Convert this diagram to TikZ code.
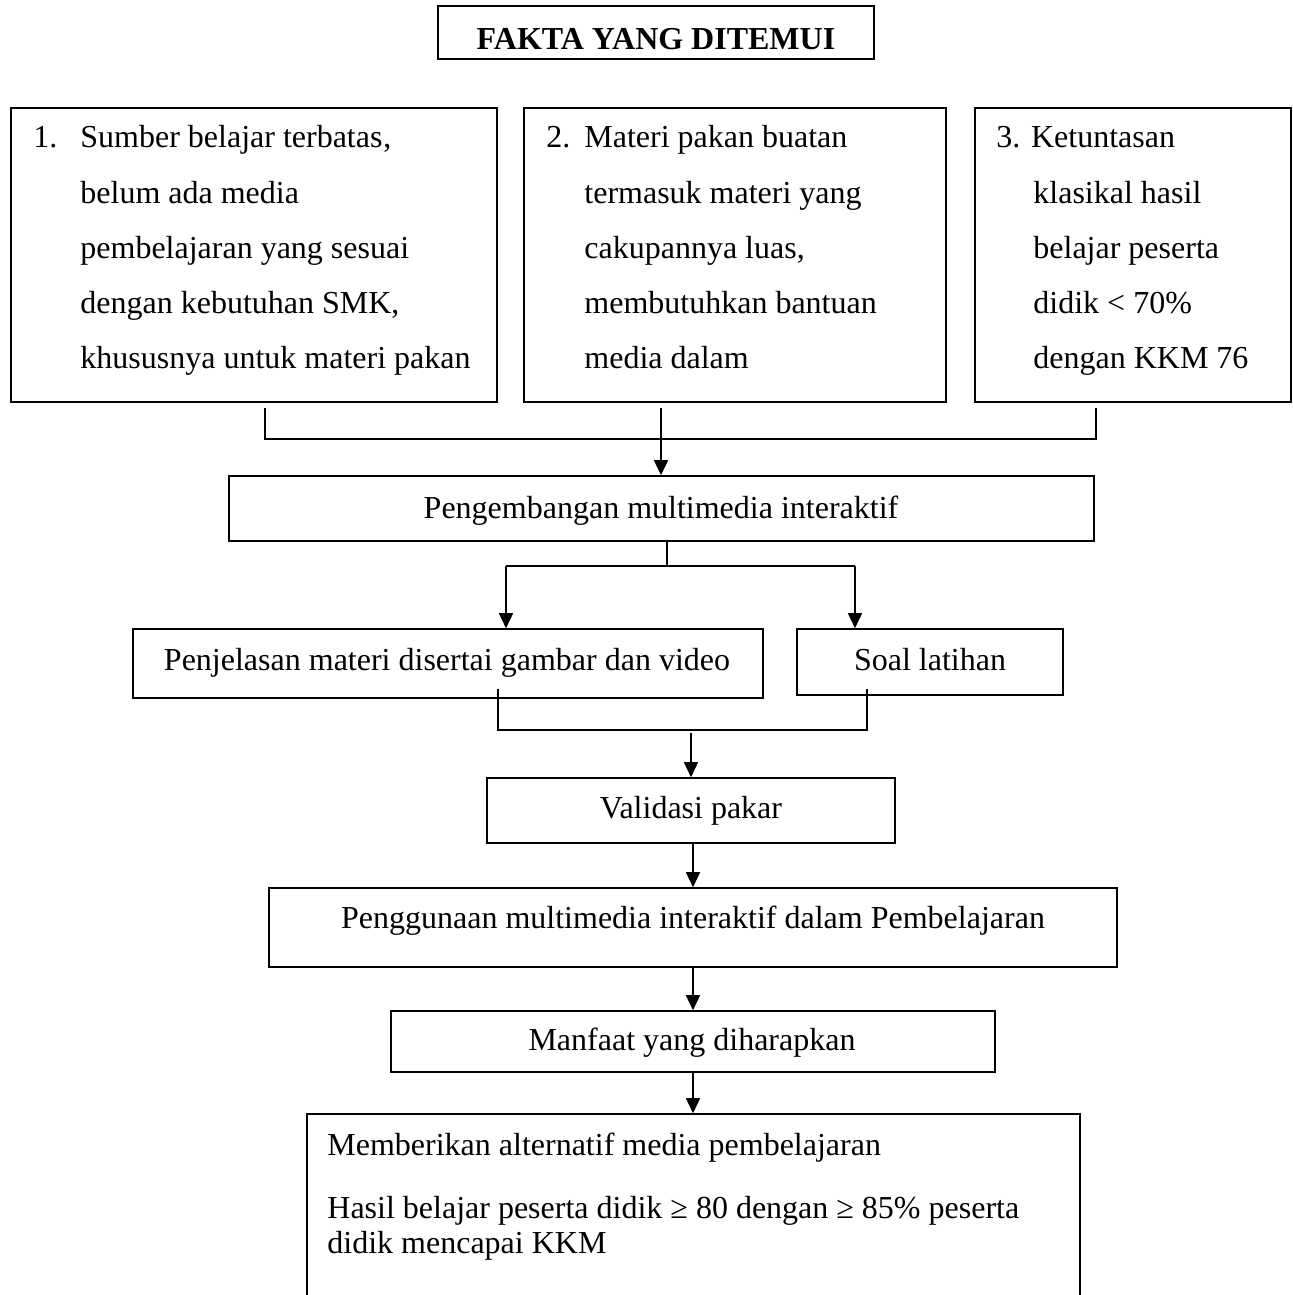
\documentclass[tikz,border=0pt]{standalone}
\usepackage{fontspec}
\setmainfont{Liberation Serif}
\usetikzlibrary{arrows.meta,fit}
\begin{document}
\begin{tikzpicture}[x=0.5pt,y=-0.5pt,
  box/.style={draw=black,line width=0.8pt,inner sep=0pt,rectangle},
  txt/.style={inner sep=0pt,font=\fontsize{16}{19}\selectfont},
  conn/.style={draw=black,line width=0.75pt},
  arr/.style={conn,-{Triangle[length=7.5pt,width=7pt]}}]
\useasboundingbox[fill=white] (0,0) rectangle (1293,1295);

% title
\node[box,fit={(438,6) (874,59)}] (title) {};
\node[txt,font=\fontsize{16}{19}\selectfont\bfseries,anchor=base] (titletext) at (656,50) {FAKTA YANG DITEMUI};

% top boxes
\node[box,fit={(11,108) (497,402)}] (b1) {};
\node[box,fit={(524,108) (946,402)}] (b2) {};
\node[box,fit={(975,108) (1291,402)}] (b3) {};

\node[txt,anchor=base west] (n1) at (33,148) {1.};
\foreach \t [count=\i] in {Sumber belajar terbatas,{belum ada media},{pembelajaran yang sesuai},{dengan kebutuhan SMK,},{khususnya untuk materi pakan}}
  \node[txt,anchor=base west] (a\i) at (80,{148+55*(\i-1)}) {\t};
\node[txt,anchor=base west] at (a1.base east) {,};

\node[txt,anchor=base west] (n2) at (546,148) {2.};
\foreach \t [count=\i] in {Materi pakan buatan,{termasuk materi yang},{cakupannya luas,},{membutuhkan bantuan},{media dalam}}
  \node[txt,anchor=base west] (bb\i) at (584,{148+55*(\i-1)}) {\t};

\node[txt,anchor=base west] (c1) at (996,148) {3. Ketuntasan};
\foreach \t [count=\i from 2] in {klasikal hasil,{belajar peserta},{didik < 70\%},{dengan KKM 76}}
  \node[txt,anchor=base west] (c\i) at (1033,{148+55*(\i-1)}) {\t};

% Pengembangan
\node[box,fit={(229,476) (1094,541)}] (pk) {};
\node[txt,anchor=base] (pkt) at (661,518) {Pengembangan multimedia interaktif};

\coordinate (j1) at (265,408);
\coordinate (j2) at (661,408);
\coordinate (j3) at (1096,408);
\coordinate (h1) at (265,439);
\coordinate (h3) at (1096,439);
\draw[conn] (j1) -- (h1) -- (h3) -- (j3);
\draw[arr] (j2) -- (j2 |- pk.north);

% second level
\node[box,fit={(133,629) (763,698)}] (pj) {};
\node[txt,anchor=base] (pjt) at (447,670) {Penjelasan materi disertai gambar dan video};
\node[box,fit={(797,629) (1063,695)}] (sl) {};
\node[txt,anchor=base] (slt) at (930,670) {Soal latihan};

\coordinate (k0) at (667,541);
\coordinate (k1) at (667,566);
\coordinate (kl) at (506,566);
\coordinate (kr) at (855,566);
\draw[conn] (k0) -- (k1);
\draw[conn] (kl) -- (kr);
\draw[arr] (kl) -- (kl |- pj.north);
\draw[arr] (kr) -- (kr |- sl.north);

% validasi
\node[box,fit={(487,778) (895,843)}] (vp) {};
\node[txt,anchor=base] (vpt) at (691,818) {Validasi pakar};

\coordinate (m1) at (498,689);
\coordinate (m2) at (867,689);
\coordinate (m1b) at (498,730);
\coordinate (m2b) at (867,730);
\coordinate (m0) at (691,733);
\draw[conn] (m1) -- (m1b) -- (m2b) -- (m2);
\draw[arr] (m0) -- (m0 |- vp.north);

% penggunaan
\node[box,fit={(269,888) (1117,967)}] (pg) {};
\node[txt,anchor=base] (pgt) at (693,928) {Penggunaan multimedia interaktif dalam Pembelajaran};
\draw[arr] (vp.south -| 693,0) -- (pg.north -| 693,0);

% manfaat
\node[box,fit={(391,1011) (995,1072)}] (mf) {};
\node[txt,anchor=base] (mft) at (692,1050) {Manfaat yang diharapkan};
\draw[arr] (pg.south -| 693,0) -- (mf.north -| 693,0);

% result
\node[box,fit={(307,1114) (1080,1310)}] (rs) {};
\node[txt,anchor=base west] (r1) at (327,1155) {Memberikan alternatif media pembelajaran};
\node[txt,anchor=base west] (r2) at (327,1218) {Hasil belajar peserta didik ≥ 80 dengan ≥ 85\% peserta};
\node[txt,anchor=base west] (r3) at (327,1253) {didik mencapai KKM};
\draw[arr] (mf.south -| 693,0) -- (rs.north -| 693,0);
\end{tikzpicture}
\end{document}
